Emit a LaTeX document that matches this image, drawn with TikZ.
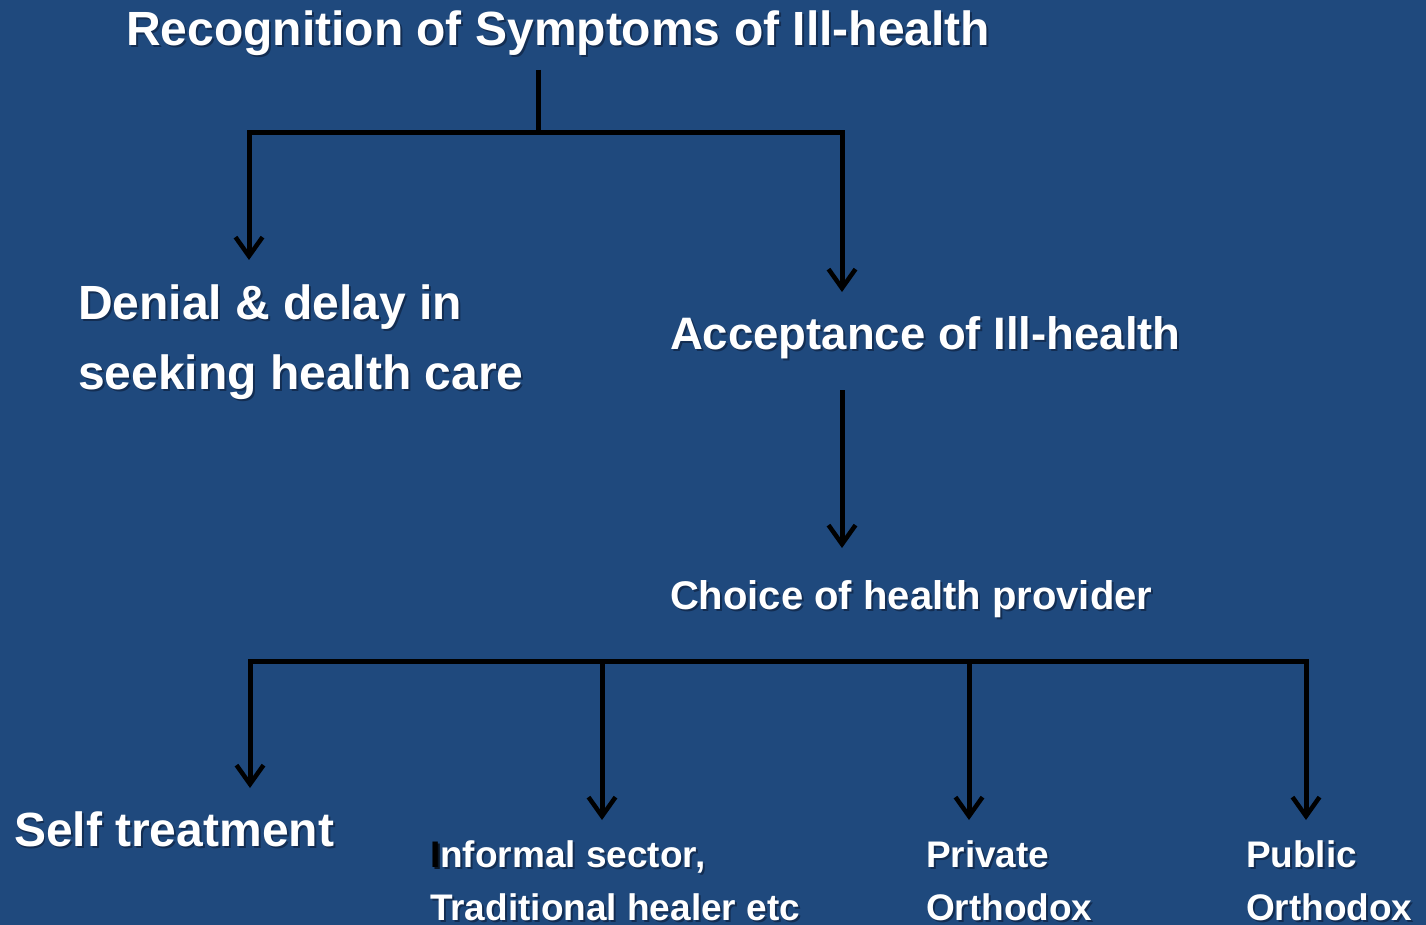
\documentclass[tikz,border=0pt]{standalone}
\usepackage{fontspec}
\setmainfont{Liberation Sans}
\usetikzlibrary{arrows.meta}
\definecolor{bg}{HTML}{1F497D}
\definecolor{shade}{HTML}{0E2240}
\newcommand\mylbl[5]{%
  \node[lblshadow, font=\bfseries\fontsize{#4}{#4}\selectfont] at (#2+2,#3+2) {#5};
  \node[lbl, font=\bfseries\fontsize{#4}{#4}\selectfont] (#1) at (#2,#3) {#5};}
\begin{document}
\begin{tikzpicture}[x=1pt,y=-1pt,
  lbl/.style={inner sep=0pt, outer sep=0pt, anchor=base west, text=white},
  lblshadow/.style={inner sep=0pt, outer sep=0pt, anchor=base west, text=shade, opacity=0.7},
  conn/.style={draw=black, line width=5pt, line join=miter},
  tipped/.style={conn, -{Straight Barb[length=19pt,width=27pt,line width=4.5pt]}},
  twotip/.style={conn, {Straight Barb[length=19pt,width=27pt,line width=4.5pt]}-{Straight Barb[length=19pt,width=27pt,line width=4.5pt]}}]
\fill[bg] (0,0) rectangle (1426,925);
\useasboundingbox (0,0) rectangle (1426,925);

\mylbl{title}{126}{46}{48}{Recognition of Symptoms of Ill-health}
\mylbl{denA}{78}{319}{48}{Denial \& delay in}
\mylbl{denB}{78}{389}{48}{seeking health care}
\mylbl{accept}{670}{349}{45.5}{Acceptance of Ill-health}
\mylbl{choice}{670}{609}{40}{Choice of health provider}
\mylbl{self}{14}{846}{48}{Self treatment}
\mylbl{infA}{430}{867}{37}{{\color{black}I}nformal sector,}
\mylbl{infB}{430}{920}{37}{Traditional healer etc}
\mylbl{privA}{926}{867}{37}{Private}
\mylbl{privB}{926}{920}{37}{Orthodox}
\mylbl{pubA}{1246}{867}{37}{Public}
\mylbl{pubB}{1246}{920}{37}{Orthodox}

\coordinate (s1) at (538,70);
\coordinate (h1) at (538,133);
\coordinate (hl) at (249,133);
\coordinate (hr) at (842,133);
\coordinate (a1) at (249,260);
\coordinate (a2) at (842,292);
\coordinate (s2) at (842,390);
\coordinate (a3) at (842,548);
\coordinate (h2l) at (250,661);
\coordinate (h2r) at (1306,661);
\coordinate (m2) at (602,661);
\coordinate (m3) at (969,661);
\coordinate (b1) at (250,788);
\coordinate (b2) at (602,820);
\coordinate (b3) at (969,820);
\coordinate (b4) at (1306,820);

\draw[conn] (s1) -- (h1);
\draw[twotip] (a1) -- (hl) -- (hr) -- (a2);
\draw[tipped] (s2) -- (a3);
\draw[twotip] (b1) -- (h2l) -- (h2r) -- (b4);
\draw[tipped] (m2) -- (b2);
\draw[tipped] (m3) -- (b3);
\end{tikzpicture}
\end{document}
